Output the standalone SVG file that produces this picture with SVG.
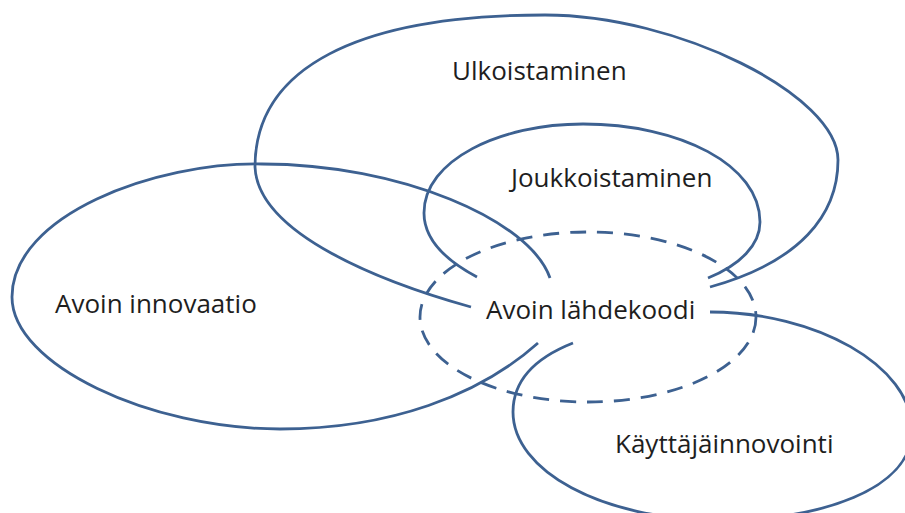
<svg xmlns="http://www.w3.org/2000/svg" width="905" height="513" viewBox="0 0 905 513">
<style>
.c{fill:none;stroke:#3d6191;stroke-width:2.8;stroke-linecap:butt}
.d{stroke-dasharray:16 11}
.t{font-family:"Open Sans","Noto Sans","Liberation Sans",sans-serif;font-size:26px;fill:#1e1e1e}
</style>
<rect width="905" height="513" fill="#ffffff"/>
<g id="ulkoistaminen">
<path class="c" d="M471,307 C385,283 258,235 255,167 C255,68 357,15 545,15 C677,15 838,95 838,160 C838,215 800,262 710,287"/>
<text class="t" x="452" y="80">Ulkoistaminen</text>
</g>
<g id="joukkoistaminen">
<path class="c" d="M477,277 C445,260 424,240 424,213 C424,160 500,124 583,124 C680,124 760,165 760,222 C760,245 740,265 708,278"/>
<text class="t" x="511" y="187">Joukkoistaminen</text>
</g>
<g id="avoin-innovaatio">
<path class="c" d="M550,278 C530,220 400,164 262,164 C155,162 12,215 12,297 C12,365 150,429 280,429 C390,429 480,395 538,343"/>
<text class="t" x="55" y="313">Avoin innovaatio</text>
</g>
<g id="kayttajainnovointi">
<path class="c" d="M710,312 C815,312 912,365 912,430 C912,490 820,520 720,520 C600,520 513,470 513,412 C513,380 535,358 573,343"/>
<text class="t" x="615" y="453">Käyttäjäinnovointi</text>
</g>
<g id="avoin-lahdekoodi">
<ellipse class="c d" cx="588" cy="317" rx="168" ry="85"/>
<text class="t" x="486" y="319">Avoin lähdekoodi</text>
</g>
<g id="connectors"/>
</svg>
